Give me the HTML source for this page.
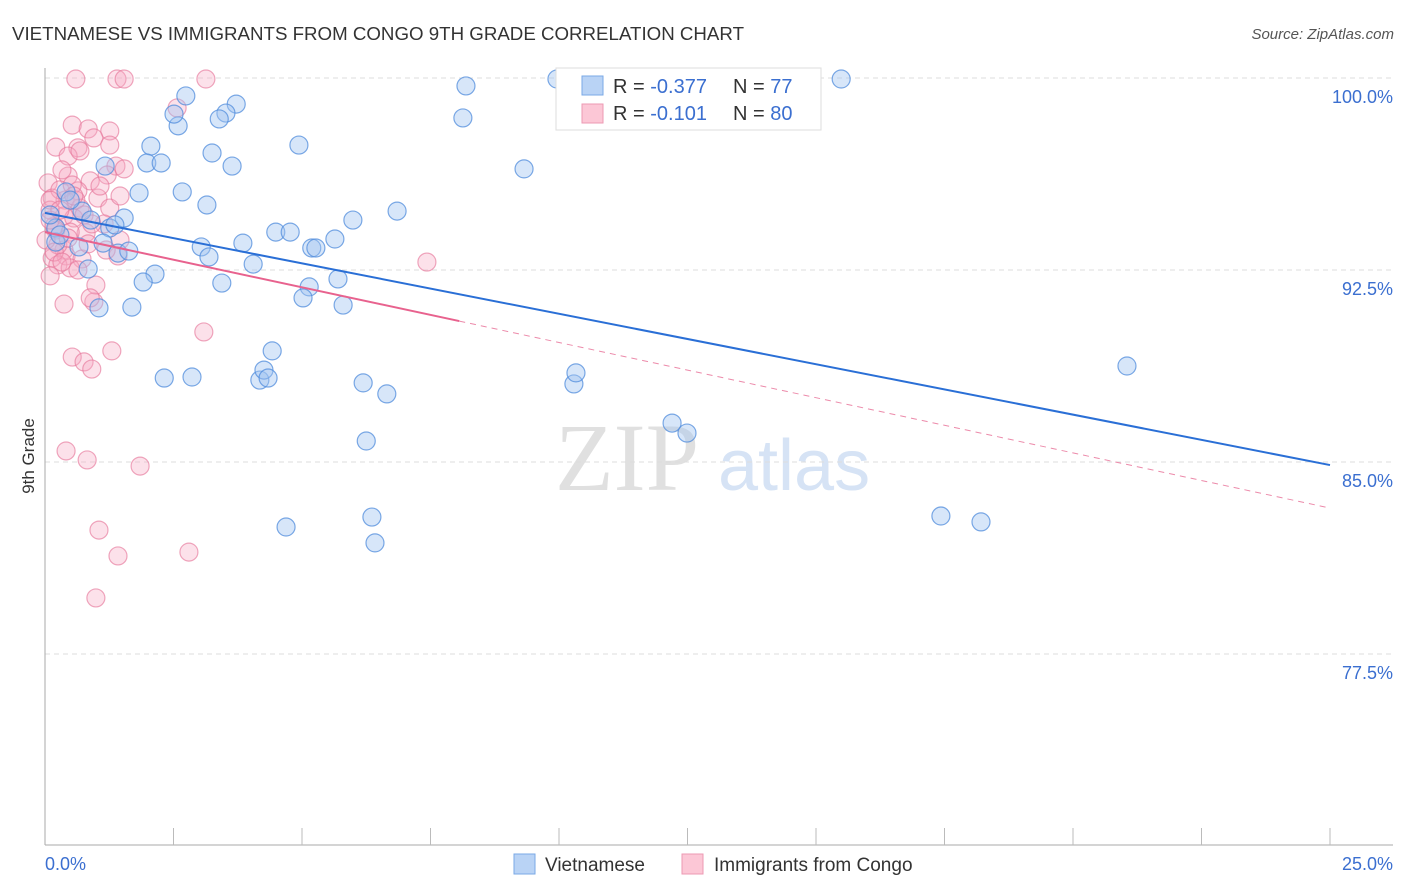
<!DOCTYPE html>
<html><head><meta charset="utf-8"><style>
body{margin:0;background:#fff;font-family:"Liberation Sans",sans-serif;}
svg{display:block}
</style></head><body>
<svg id="chart" width="1406" height="892">
<text x="12" y="40" font-size="18" fill="#333" textLength="732" lengthAdjust="spacingAndGlyphs">VIETNAMESE VS IMMIGRANTS FROM CONGO 9TH GRADE CORRELATION CHART</text>
<text x="1394" y="39" font-size="15" fill="#555" font-style="italic" text-anchor="end">Source: ZipAtlas.com</text>
<text x="555" y="490" font-size="96" fill="#e0e0e0" font-family="Liberation Serif,serif">ZIP</text>
<text x="718" y="490" font-size="72" fill="#d6e3f5">atlas</text>
<g id="grid"></g><g id="axes"></g><g id="pts"></g><g id="trend"></g>
<text transform="translate(34,456) rotate(-90)" font-size="17" fill="#333" text-anchor="middle">9th Grade</text>
<g>
<rect x="556" y="68" width="265" height="62" fill="#fff" stroke="#ddd"/>
<rect x="582" y="76" width="21" height="19" fill="#b9d3f5" stroke="#7aa8e6"/>
<text x="613" y="93" font-size="20" fill="#333">R = <tspan fill="#3b6fd0">-0.377</tspan></text>
<text x="733" y="93" font-size="20" fill="#333">N = <tspan fill="#3b6fd0">77</tspan></text>
<rect x="582" y="104" width="21" height="19" fill="#fcc7d6" stroke="#ec9ab3"/>
<text x="613" y="120" font-size="20" fill="#333">R = <tspan fill="#3b6fd0"> -0.101</tspan></text>
<text x="733" y="120" font-size="20" fill="#333">N = <tspan fill="#3b6fd0">80</tspan></text>
</g>
<g>
<rect x="514" y="854" width="21" height="20" fill="#b9d3f5" stroke="#7aa8e6"/>
<text x="545" y="871" font-size="19" fill="#333">Vietnamese</text>
<rect x="682" y="854" width="21" height="20" fill="#fcc7d6" stroke="#ec9ab3"/>
<text x="714" y="871" font-size="19" fill="#333">Immigrants from Congo</text>
</g>
</svg>
<script>
const yTicks=[100,92.5,85,77.5];
const yTickLabels=["100.0%","92.5%","85.0%","77.5%"];
const xTickCount=10;
const blueX=[2.74,3.72,3.52,3.39,2.59,2.51,2.06,3.25,4.94,1.17,1.98,2.26,3.64,1.83,2.67,3.15,8.19,9.96,15.49,8.13,9.32,6.85,5.99,1.54,0.41,0.72,0.89,1.26,0.21,0.21,0.66,1.13,1.42,1.63,3.04,3.19,3.85,4.49,4.77,5.19,5.27,5.64,4.05,0.84,2.14,1.91,3.44,5.14,5.70,5.02,5.80,1.05,1.69,4.42,2.32,2.86,4.18,4.26,4.34,6.19,6.65,10.29,10.33,21.05,12.20,12.49,6.25,17.43,18.21,4.69,6.36,6.42,0.10,0.29,0.49,1.36];
const blueY=[99.30,98.98,98.63,98.40,98.13,98.59,97.34,97.07,97.38,96.56,96.68,96.68,96.56,95.51,95.55,95.04,99.69,99.96,99.96,98.44,96.45,94.80,94.45,94.53,95.55,94.80,94.45,94.14,94.14,93.59,93.40,93.55,93.16,93.24,93.40,93.01,93.55,93.98,93.98,93.36,93.36,93.71,92.73,92.54,92.34,92.03,91.99,91.84,92.15,91.41,91.13,91.02,91.05,89.34,88.28,88.32,88.20,88.59,88.28,88.09,87.66,88.05,88.48,88.75,86.52,86.13,85.82,82.89,82.66,82.46,82.85,81.84,94.65,93.87,95.23,94.26];
const pinkX=[0.60,1.40,1.54,3.13,2.57,0.53,0.84,1.26,0.21,0.95,0.64,1.26,0.45,0.68,1.38,1.54,0.06,0.45,1.21,0.88,0.64,0.14,0.39,1.03,0.68,0.37,1.26,0.18,0.56,0.21,0.80,1.46,0.37,0.14,0.41,0.72,1.42,0.25,0.49,0.10,0.99,0.95,0.88,0.37,3.09,1.30,0.53,0.76,0.91,0.41,0.82,1.85,1.05,2.80,1.42,0.99,7.43,0.10,0.29,0.53,1.15,0.25,0.02,0.60,0.76,1.07,0.33,0.10,0.49,0.84,0.18,0.33,0.64,0.10,0.91,0.29,0.45,1.19,1.46,0.56];
const pinkY=[99.96,99.96,99.96,99.96,98.83,98.16,98.01,97.93,97.30,97.66,97.27,97.38,96.95,97.15,96.56,96.45,95.90,96.17,96.21,95.98,95.59,95.31,95.23,95.31,94.92,94.61,94.92,94.22,94.53,94.06,93.95,93.67,93.28,92.97,93.05,92.93,93.05,92.70,92.58,92.27,91.91,91.25,91.41,91.17,90.08,89.34,89.10,88.91,88.63,85.43,85.08,84.84,82.34,81.48,81.33,79.69,92.81,94.84,95.63,95.82,94.30,93.48,93.67,95.23,94.65,95.78,96.41,94.45,93.98,93.52,93.20,92.81,92.50,95.23,94.30,94.84,93.75,93.28,95.39,95.39];
const blueTrend=[94.73,84.88];
const pinkTrend=[93.98,83.20];
const pinkSolidEnd=8.06;
const X0=45,X1=1330,Y0=78,PPY=25.6;
const sx=v=>X0+(X1-X0)*v/25;
const sy=v=>Y0+(100-v)*PPY;
const NS="http://www.w3.org/2000/svg";
function mk(t,a,p){const e=document.createElementNS(NS,t);for(const k in a)e.setAttribute(k,a[k]);p.appendChild(e);return e;}
const grid=document.getElementById('grid'),axes=document.getElementById('axes'),pts=document.getElementById('pts'),tr=document.getElementById('trend');
yTicks.forEach((t,i)=>{
 const l=mk('line',{x1:X0,x2:1393,y1:sy(t),y2:sy(t),stroke:'#ddd','stroke-dasharray':'5,4'},grid);
 
 
 const tx=mk('text',{x:1393,y:sy(t)+25,'font-size':18,fill:'#3b6fd0','text-anchor':'end'},grid);
 tx.textContent=yTickLabels[i];
 
 
});
const ax=mk('line',{x1:X0,x2:X0,y1:68,y2:845,stroke:'#aaa'},axes);


const bx=mk('line',{x1:X0,x2:1393,y1:845,y2:845,stroke:'#aaa'},axes);


for(let k=1;k<=xTickCount;k++){const v=25*k/xTickCount;const t=mk('line',{x1:sx(v),x2:sx(v),y1:828,y2:845,stroke:'#bbb'},axes);
 
 }
const xl=mk('text',{x:X0,y:870,'font-size':18,fill:'#3b6fd0'},axes);xl.textContent='0.0%';


const xr=mk('text',{x:1393,y:870,'font-size':18,fill:'#3b6fd0','text-anchor':'end'},axes);xr.textContent='25.0%';


pinkX.forEach((x,i)=>{const c=mk('circle',{cx:sx(x),cy:sy(pinkY[i]),r:9,fill:'rgba(246,170,196,0.35)',stroke:'rgba(230,120,155,0.65)','stroke-width':1.2},pts);
 
 });
blueX.forEach((x,i)=>{const c=mk('circle',{cx:sx(x),cy:sy(blueY[i]),r:9,fill:'rgba(160,196,240,0.42)',stroke:'rgba(80,140,220,0.75)','stroke-width':1.2},pts);
 
 });
const pAt=x=>pinkTrend[0]+(pinkTrend[1]-pinkTrend[0])*x/25;
const l1=mk('line',{x1:sx(0),y1:sy(blueTrend[0]),x2:sx(25),y2:sy(blueTrend[1]),stroke:'#2a6fd6','stroke-width':2},tr);


const l2=mk('line',{x1:sx(0),y1:sy(pAt(0)),x2:sx(pinkSolidEnd),y2:sy(pAt(pinkSolidEnd)),stroke:'#e8628e','stroke-width':2},tr);


const l3=mk('line',{x1:sx(pinkSolidEnd),y1:sy(pAt(pinkSolidEnd)),x2:sx(25),y2:sy(pAt(25)),stroke:'#ec8aaa','stroke-width':1,'stroke-dasharray':'6,5'},tr);


</script>
</body></html>
